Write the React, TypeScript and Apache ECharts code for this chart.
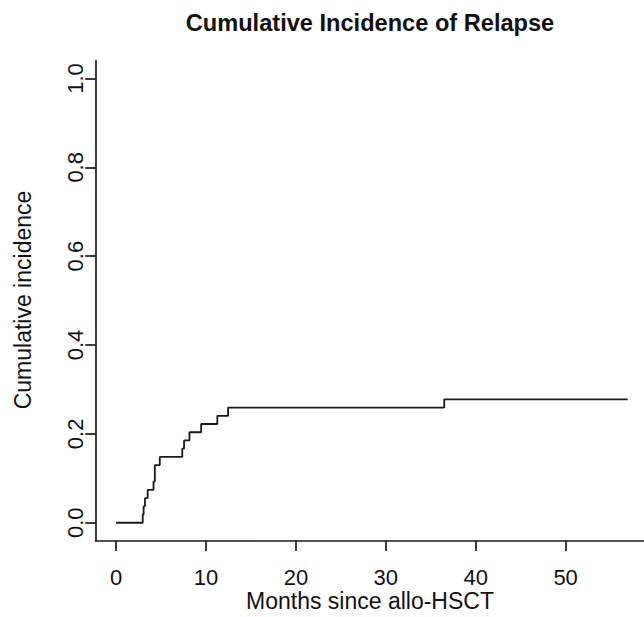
import React, { useEffect, useRef } from "react";
import * as echarts from "echarts";

// Step times (months) and cumulative incidence values
const months = [0, 2.95, 3.05, 3.2, 3.5, 4.15, 4.3, 4.85, 7.35, 7.55, 8.15, 9.45, 11.25, 12.45, 36.5, 56.9];
const incidence = [0, 0.0185, 0.037, 0.0556, 0.0741, 0.0926, 0.1296, 0.1481, 0.1667, 0.1852, 0.2037, 0.2222, 0.2407, 0.2593, 0.2778, 0.2778];

const xTicks = [0, 10, 20, 30, 40, 50];
const yTicks = [0, 0.2, 0.4, 0.6, 0.8, 1.0];

const titleText = "Cumulative Incidence of Relapse";
const xLabel = "Months since allo-HSCT";
const yLabel = "Cumulative incidence";

const FONT = "'Liberation Sans', Arial, Helvetica, sans-serif";
const INK = "#1a1a1a";

export default function App() {
  const ref = useRef<HTMLDivElement>(null);
  useEffect(() => {
    if (!ref.current) return;
    const chart = echarts.init(ref.current, null, { renderer: "svg" });
    const data = months.map((m, i) => [m, incidence[i]]);
    chart.setOption({
      animation: false,
      backgroundColor: "#ffffff",
      textStyle: { fontFamily: FONT },
      grid: { left: 95.7, right: 0, top: 60.7, bottom: 76.5, containLabel: false },
      xAxis: {
        type: "value",
        min: -2.28,
        max: 58.72,
        splitLine: { show: false },
        axisLine: { show: true, onZero: false, lineStyle: { color: INK, width: 1.7 } },
        axisTick: { show: true, customValues: xTicks, length: 10.5, lineStyle: { color: INK, width: 1.7 } },
        axisLabel: {
          show: true,
          customValues: xTicks,
          color: "#111",
          fontSize: 22,
          fontFamily: FONT,
          margin: 26,
          formatter: (v: number) => String(v),
        },
      },
      yAxis: {
        type: "value",
        min: -0.04,
        max: 1.04,
        splitLine: { show: false },
        axisLine: { show: true, onZero: false, lineStyle: { color: INK, width: 1.7 } },
        axisTick: { show: true, customValues: yTicks, length: 10.5, lineStyle: { color: INK, width: 1.7 } },
        axisLabel: {
          show: true,
          customValues: yTicks,
          rotate: 90,
          color: "#111",
          fontSize: 22,
          fontFamily: FONT,
          margin: 9,
          formatter: (v: number) => v.toFixed(1),
        },
      },
      graphic: [
        {
          type: "text",
          x: 370,
          y: 23,
          style: {
            text: titleText,
            fontSize: 23.6,
            fontWeight: "bold",
            fontFamily: FONT,
            fill: "#111",
            textAlign: "center",
            textVerticalAlign: "middle",
          },
        },
        {
          type: "text",
          x: 370,
          y: 601,
          style: {
            text: xLabel,
            fontSize: 23,
            fontFamily: FONT,
            fill: "#111",
            textAlign: "center",
            textVerticalAlign: "middle",
          },
        },
        {
          type: "text",
          x: 23,
          y: 300,
          rotation: Math.PI / 2,
          style: {
            text: yLabel,
            fontSize: 23,
            fontFamily: FONT,
            fill: "#111",
            textAlign: "center",
            textVerticalAlign: "middle",
          },
        },
      ],
      series: [
        {
          type: "line",
          step: "end",
          data,
          symbol: "none",
          lineStyle: { color: INK, width: 1.8 },
        },
      ],
    });
    return () => chart.dispose();
  }, []);
  return (
    <div
      ref={ref}
      style={{ position: "fixed", left: 0, top: 0, width: 644, height: 617, background: "#fff" }}
    />
  );
}
